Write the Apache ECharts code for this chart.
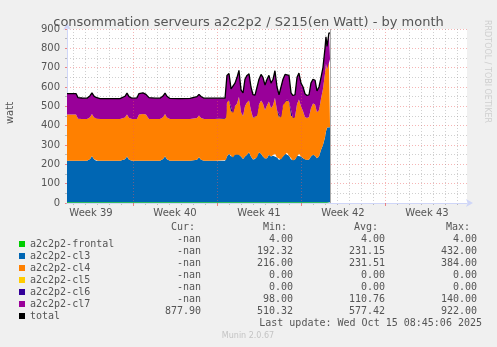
<!DOCTYPE html>
<html><head><meta charset="utf-8">
<script src="https://cdn.jsdelivr.net/npm/echarts@6/dist/echarts.min.js"></script>
<style>html,body{margin:0;padding:0;background:#f0f0f0}#c{width:497px;height:347px}</style>
</head><body><div id="c"></div>
<script>
// x positions: days since the left edge of the plot (plot starts Tue 23 Sep 2025 12:00)
const days = [0,0.25,0.75,0.92,1.25,1.67,1.92,2.08,2.25,2.42,2.58,2.75,3.58,4.42,4.83,5.0,5.17,5.42,5.83,6.0,6.33,6.58,6.83,7.33,7.75,8.0,8.17,8.33,8.58,9.42,10.25,10.83,11.0,11.17,11.42,12.33,13.17,
  13.25,13.33,13.5,13.67,13.83,14.0,14.17,14.33,14.5,14.67,14.83,15.0,15.17,15.33,15.5,15.67,15.83,16.0,16.17,16.33,16.5,16.67,16.83,17.0,17.17,17.33,17.5,17.67,17.83,18.0,18.17,18.33,18.5,18.67,18.83,19.0,19.17,19.33,19.5,19.67,19.83,20.0,20.17,20.33,20.5,20.67,20.83,21.0,21.17,21.33,21.5,21.58,21.67,21.83,21.92];
const frontal = [4,4,4,4,4,4,4,4,4,4,4,4,4,4,4,4,4,4,4,4,4,4,4,4,4,4,4,4,4,4,4,4,4,4,4,4,4,
  4,4,4,4,4,4,4,4,4,4,4,4,4,4,4,4,4,4,4,4,4,4,4,4,4,4,4,4,4,4,4,4,4,4,4,4,4,4,4,4,4,4,4,4,4,4,4,4,4,4,4,4,4,4,4];
const cl3 = [214,214,214,214,214,214,224,239,222,214,214,214,214,214,222,237,220,214,214,214,214,214,214,214,214,224,238,222,214,214,214,220,232,220,214,214,214,
  218,236,251,236,231,246,254,246,236,224,236,246,258,236,221,224,231,258,251,236,226,228,246,236,241,251,231,218,221,236,251,256,241,221,216,221,241,251,236,228,221,218,221,236,246,241,228,236,271,296,336,366,386,391,388];
const cl4 = [240,240,240,218,216,216,216,217,216,222,218,216,216,216,216,217,216,216,216,240,242,240,216,216,216,216,218,216,216,216,216,216,216,216,216,216,216,
  218,280,275,230,230,250,257,300,230,222,260,270,268,240,216,216,217,248,275,275,250,273,275,250,260,290,245,218,217,265,275,275,280,225,220,220,267,280,260,243,220,218,220,250,265,265,238,240,265,290,330,350,300,345,353];
const cl5 = [0,0,0,0,0,0,0,0,0,0,0,0,0,0,0,0,0,0,0,0,0,0,0,0,0,0,0,0,0,0,0,0,0,0,0,0,0,
  0,0,0,0,0,0,0,0,0,0,0,0,0,0,0,0,0,0,0,0,0,0,0,0,0,0,0,0,0,0,0,0,0,0,0,0,0,0,0,0,0,0,0,0,0,0,0,0,0,0,0,0,0,0,0];
const cl6 = [0,0,0,0,0,0,0,0,0,0,0,0,0,0,0,0,0,0,0,0,0,0,0,0,0,0,0,0,0,0,0,0,0,0,0,0,0,
  0,0,0,0,0,0,0,0,0,0,0,0,0,0,0,0,0,0,0,0,0,0,0,0,0,0,0,0,0,0,0,0,0,0,0,0,0,0,0,0,0,0,0,0,0,0,0,0,0,0,0,0,0,0,0];
const cl7 = [108,108,108,109,109,108,111,110,111,106,106,106,106,106,110,110,110,108,110,108,110,104,111,108,108,109,108,110,107,106,107,110,110,111,108,108,108,
  105,140,140,120,120,120,135,136,115,120,140,140,138,120,119,114,108,130,135,135,130,135,135,130,135,139,120,120,116,135,135,137,135,120,116,115,138,137,120,125,120,116,115,130,125,125,110,120,110,110,130,140,120,140,133];

const seriesNames = ['a2c2p2-frontal','a2c2p2-cl3','a2c2p2-cl4','a2c2p2-cl5','a2c2p2-cl6','a2c2p2-cl7','total'];
const seriesColors = ['#00CC00','#0066B3','#FF8000','#FFCC00','#330099','#990099','#000000'];
const statCur = ['-nan','-nan','-nan','-nan','-nan','-nan','877.90'];
const statMin = ['4.00','192.32','216.00','0.00','0.00','98.00','510.32'];
const statAvg = ['4.00','231.15','231.51','0.00','0.00','110.76','577.42'];
const statMax = ['4.00','432.00','384.00','0.00','0.00','140.00','922.00'];

const weekLabels = ['Week 39','Week 40','Week 41','Week 42','Week 43'];
const weekMid = [2, 9, 16, 23, 30];          // days from plot start (mid-week)
const weekBounds = [5.5, 12.5, 19.5, 26.5];  // Monday 00:00 boundaries
const spanDays = 400 / 12;

const DAY = 86400000;
const t0 = Date.UTC(2025, 8, 23, 12);
const toT = d => t0 + d * DAY;

const dailyTicks = [];
for (let d = 0.5; d < spanDays; d += 1) { if (weekBounds.indexOf(d) < 0) dailyTicks.push(d); }

const parts = [frontal, cl3, cl4, cl5, cl6, cl7];
const total = days.map((d, i) => parts.reduce((s, a) => s + a[i], 0));

const series = parts.map((arr, k) => ({
  name: seriesNames[k], type: 'line', stack: 'all', symbol: 'none', silent: true, xAxisIndex: 0,
  data: days.map((d, i) => [toT(d), arr[i]]),
  lineStyle: { width: 0 }, itemStyle: { color: seriesColors[k] },
  areaStyle: { color: seriesColors[k], opacity: 1 }, z: 2
}));
series.push({
  name: 'total', type: 'line', symbol: 'none', silent: true, xAxisIndex: 0,
  data: days.map((d, i) => [toT(d), total[i]]),
  lineStyle: { width: 1.3, color: '#000' }, itemStyle: { color: '#000' }, z: 3,
  markLine: { silent: true, symbol: ['none','none'], label: { show: false },
    lineStyle: { color: '#aaa', width: 1, type: 'solid' },
    data: [{ xAxis: toT(days[days.length - 1]) }] }
});

const mono = 'DejaVu Sans Mono';
const txt = '#555';
const graphics = [];
function T(x, y, s, align, opt) {
  graphics.push({ type: 'text', x: x, y: y, silent: true,
    style: Object.assign({ text: s, x: 0, y: 0, textAlign: align, textVerticalAlign: 'middle',
      fontFamily: mono, fontSize: 10, fill: txt }, opt || {}) });
}
T(195, 227, 'Cur:', 'right'); T(287, 227, 'Min:', 'right'); T(378, 227, 'Avg:', 'right'); T(470, 227, 'Max:', 'right');
for (let i = 0; i < seriesNames.length; i++) {
  const y = 239.5 + i * 12;
  T(201, y, statCur[i], 'right'); T(293, y, statMin[i], 'right');
  T(385, y, statAvg[i], 'right'); T(477, y, statMax[i], 'right');
}
T(482, 323, 'Last update: Wed Oct 15 08:45:06 2025', 'right');
T(248, 336, 'Munin 2.0.67', 'center', { fontFamily: 'DejaVu Sans', fontSize: 8, fill: '#c4c4c4' });
graphics.push({ type: 'text', x: 10, y: 113, rotation: Math.PI / 2, silent: true,
  style: { text: 'watt', x: 0, y: 0, textAlign: 'center', textVerticalAlign: 'middle', fontFamily: 'DejaVu Sans', fontSize: 10, fill: txt } });
graphics.push({ type: 'text', x: 487, y: 20, rotation: -Math.PI / 2, silent: true,
  style: { text: 'RRDTOOL / TOBI OETIKER', x: 0, y: 0, textAlign: 'left', textVerticalAlign: 'middle', fontFamily: 'DejaVu Sans', fontSize: 8, fill: '#cfcfcf' } });

const major = { color: 'rgba(235,90,90,0.45)', type: [1, 2], width: 1 };
const minor = { color: 'rgba(150,150,150,0.45)', type: [1, 2], width: 1 };
const axisCol = '#CFD6F8';

const chart = echarts.init(document.getElementById('c'), null, { renderer: 'canvas' });
chart.setOption({
  animation: false,
  backgroundColor: '#F0F0F0',
  title: { text: 'consommation serveurs a2c2p2 / S215(en Watt) - by month', left: 'center', top: 11,
    textStyle: { fontFamily: 'DejaVu Sans', fontSize: 13, fontWeight: 'normal', color: '#555' } },
  grid: { left: 67, right: 30, top: 29, bottom: 144, show: true, backgroundColor: '#fff', borderWidth: 0, outerBoundsMode: 'none' },
  legend: { orient: 'vertical', left: 14, top: 233, itemWidth: 6, itemHeight: 6, itemGap: 0, itemTextGap: 6,
    icon: 'rect', selectedMode: false, data: seriesNames,
    textStyle: { fontFamily: mono, fontSize: 10, color: txt, lineHeight: 12 } },
  xAxis: [
    { type: 'time', min: toT(0), max: toT(spanDays), position: 'bottom', show: false },
    { type: 'value', min: 0, max: spanDays, position: 'bottom', z: 3,
      axisLine: { show: true, lineStyle: { color: axisCol }, symbol: ['none', 'arrow'], symbolSize: [6, 7], symbolOffset: [0, 6] },
      axisTick: { show: true, customValues: weekBounds, length: 3, lineStyle: { color: 'rgba(235,60,60,0.6)' } },
      splitLine: { show: true, lineStyle: major },
      axisLabel: { show: true, customValues: weekMid, margin: 5, color: txt, fontSize: 10, fontFamily: 'DejaVu Sans',
        formatter: v => { const i = weekMid.findIndex(m => Math.abs(m - v) < 1e-6); return i >= 0 ? weekLabels[i] : ''; } } },
    { type: 'value', min: 0, max: spanDays, position: 'bottom', z: 2,
      axisLine: { show: false },
      axisTick: { show: true, customValues: dailyTicks, length: 2, lineStyle: { color: 'rgba(150,150,150,0.6)' } },
      splitLine: { show: true, lineStyle: minor },
      axisLabel: { show: false } }
  ],
  yAxis: { type: 'value', min: 0, max: 900, interval: 100,
    axisLine: { show: true, lineStyle: { color: axisCol }, symbol: ['none', 'arrow'], symbolSize: [6, 7], symbolOffset: [0, 6] },
    axisTick: { show: true, length: 2, lineStyle: { color: 'rgba(235,60,60,0.6)' } },
    minorTick: { show: true, splitNumber: 2, length: 2, lineStyle: { color: 'rgba(150,150,150,0.6)' } },
    splitLine: { show: true, lineStyle: major },
    minorSplitLine: { show: true, lineStyle: minor },
    axisLabel: { margin: 7, color: txt, fontSize: 10, fontFamily: 'DejaVu Sans' } },
  series: series,
  graphic: graphics
});
</script></body></html>
